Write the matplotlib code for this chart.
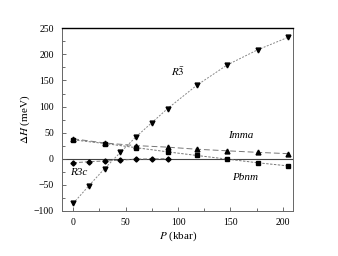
import numpy as np
import matplotlib
matplotlib.use('Agg')
import matplotlib.pyplot as plt
from matplotlib.ticker import MultipleLocator

plt.rcParams['font.family'] = 'Liberation Serif'
plt.rcParams['mathtext.fontset'] = 'stix'

# pressure (kbar) and enthalpy differences (meV)
p_r3bar = [0, 15, 30, 45, 60, 75, 90, 118, 147, 176, 205]
h_r3bar = [-86, -52, -19, 12, 42, 69, 96, 141, 180, 209, 233]

p_r3c = [0, 15, 30, 45, 60, 75, 90]
h_r3c = [-8, -6, -4.5, -3, -1, -0.5, 0]

p_imma = [0, 30, 60, 90, 118, 147, 176, 205]
h_imma = [38, 30, 25, 22, 18, 15, 12, 9.5]

p_pbnm = [0, 30, 60, 90, 118, 147, 176, 205]
h_pbnm = [36, 29, 21, 13, 6, -1, -8, -14]

fig = plt.figure(figsize=(3.38, 2.56), dpi=100)
ax = fig.add_axes([0.184, 0.177, 0.684, 0.712])

ax.axhline(0, color='#444444', lw=0.8, zorder=1)

ax.plot(p_r3bar, h_r3bar, color='#888888', lw=0.7, ls=(0, (2, 1.5)),
        marker='v', ms=3.5, mfc='black', mec='black')
ax.plot(p_imma, h_imma, color='#777777', lw=0.7, ls=(0, (6, 3)),
        marker='^', ms=3.5, mfc='black', mec='black')
ax.plot(p_pbnm, h_pbnm, color='#777777', lw=0.7, ls=(0, (2.5, 1.5)),
        marker='s', ms=3, mfc='black', mec='black')
ax.plot(p_r3c, h_r3c, color='#777777', lw=0.7, ls=(0, (4, 2)),
        marker='D', ms=2.6, mfc='black', mec='black')

ax.text(100, 167, r'$R\bar{3}$', fontsize=8, ha='center', va='center')
ax.text(160, 44, 'Imma', fontsize=8, style='italic', ha='center', va='center')
ax.text(164, -36, 'Pbnm', fontsize=8, style='italic', ha='center', va='center')
ax.text(5, -26, 'R3c', fontsize=8, style='italic', ha='center', va='center')

ax.set_xlim(-10.5, 210)
ax.set_ylim(-100, 250)
ax.xaxis.set_major_locator(MultipleLocator(50))
ax.xaxis.set_minor_locator(MultipleLocator(25))
ax.yaxis.set_major_locator(MultipleLocator(50))
ax.yaxis.set_minor_locator(MultipleLocator(25))
ax.tick_params(which='both', direction='in', labelsize=7, width=0.6, color='#555555')
ax.tick_params(axis='y', pad=6)
ax.tick_params(axis='x', pad=5)
ax.tick_params(which='major', length=3)
ax.tick_params(which='minor', length=2)

for side in ['left', 'right', 'bottom']:
    ax.spines[side].set_color('#666666')
    ax.spines[side].set_linewidth(0.7)
ax.spines['top'].set_color('black')
ax.spines['top'].set_linewidth(1.0)

ax.set_xlabel(r'$P$ (kbar)', fontsize=8, labelpad=2)
ax.set_ylabel(r'$\Delta H$ (meV)', fontsize=8, labelpad=1)

fig.savefig('out.png', dpi=100)
